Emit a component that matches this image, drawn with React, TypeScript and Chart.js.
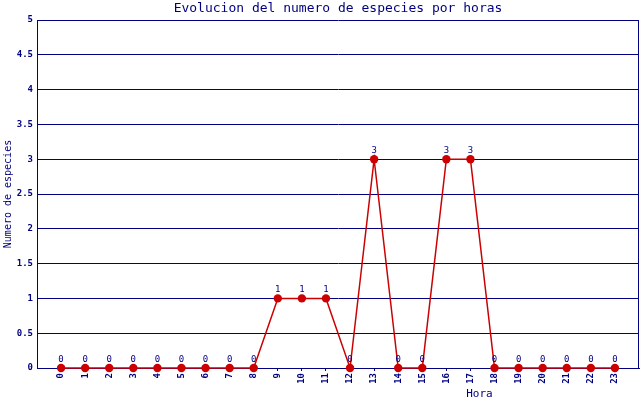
import React, { useEffect, useRef } from "react";
import { Chart, registerables } from "chart.js";

Chart.register(...registerables);

const hours: number[] = [0, 1, 2, 3, 4, 5, 6, 7, 8, 9, 10, 11, 12, 13, 14, 15, 16, 17, 18, 19, 20, 21, 22, 23];
const species: number[] = [0, 0, 0, 0, 0, 0, 0, 0, 0, 1, 1, 1, 0, 3, 0, 0, 3, 3, 0, 0, 0, 0, 0, 0];
const yTicks: number[] = [0, 0.5, 1, 1.5, 2, 2.5, 3, 3.5, 4, 4.5, 5];

const TITLE = "Evolucion del numero de especies por horas";
const X_TITLE = "Hora";
const Y_TITLE = "Numero de especies";

const NAVY = "#000080";
const RED = "#cc0000";
const MONO = "'DejaVu Sans Mono', monospace";

const textPlugin = {
  id: "customText",
  afterDatasetsDraw(chart: any) {
    const { ctx, chartArea } = chart;
    ctx.save();
    // point value labels
    const meta = chart.getDatasetMeta(0);
    ctx.fillStyle = NAVY;
    ctx.font = `9px ${MONO}`;
    ctx.textAlign = "center";
    ctx.textBaseline = "bottom";
    meta.data.forEach((el: any, i: number) => {
      ctx.fillText(String(species[i]), el.x, el.y - 4);
    });
    // right border
    ctx.strokeStyle = NAVY;
    ctx.lineWidth = 1;
    ctx.beginPath();
    ctx.moveTo(chartArea.right - 0.5, chartArea.top);
    ctx.lineTo(chartArea.right - 0.5, chartArea.bottom);
    ctx.stroke();
    // title
    ctx.font = `13px ${MONO}`;
    ctx.textBaseline = "middle";
    ctx.fillText(TITLE, (chartArea.left + chartArea.right) / 2, 9);
    // x title
    ctx.font = `11px ${MONO}`;
    ctx.fillText(X_TITLE, chartArea.left + (chartArea.right - chartArea.left) * 0.735, 394);
    ctx.restore();
  },
};

export default function App() {
  const ref = useRef<HTMLCanvasElement | null>(null);

  useEffect(() => {
    document.body.style.margin = "0";
    if (!ref.current) return;
    const chart = new Chart(ref.current, {
      type: "line",
      data: {
        datasets: [
          {
            data: hours.map((h, i) => ({ x: h, y: species[i] })),
            borderColor: RED,
            backgroundColor: RED,
            borderWidth: 1.5,
            pointRadius: 4.2,
            pointBackgroundColor: RED,
            pointBorderColor: RED,
            pointBorderWidth: 0,
            tension: 0,
            clip: false,
          },
        ],
      },
      options: {
        animation: false,
        responsive: false,
        devicePixelRatio: 1,
        layout: { autoPadding: false, padding: { top: 20, right: 1, left: 0, bottom: 0 } },
        plugins: {
          legend: { display: false },
          tooltip: { enabled: false },
          title: { display: false },
        },
        scales: {
          x: {
            type: "linear",
            min: -1,
            max: 24,
            afterFit(scale: any) {
              scale.height = 32;
              scale.paddingLeft = 0;
              scale.paddingRight = 0;
            },
            afterBuildTicks(scale: any) {
              scale.ticks = [-1, ...hours, 24].map((v) => ({ value: v }));
            },
            ticks: {
              stepSize: 1,
              autoSkip: false,
              maxRotation: 90,
              minRotation: 90,
              padding: 2,
              color: NAVY,
              font: { family: MONO, size: 9, weight: "bold" },
              callback: (v: any) => (v >= 0 && v <= 23 ? String(v) : ""),
            },
            grid: {
              drawOnChartArea: false,
              drawTicks: true,
              tickLength: 3,
              tickColor: (c: any) =>
                c.tick && (c.tick.value < 0 || c.tick.value > 23) ? "rgba(0,0,0,0)" : NAVY,
            },
            border: { color: NAVY, width: 1 },
          },
          y: {
            min: 0,
            max: 5,
            afterFit(scale: any) {
              scale.width = 37;
              scale.paddingTop = 0;
              scale.paddingBottom = 0;
            },
            afterBuildTicks(scale: any) {
              scale.ticks = yTicks.map((v) => ({ value: v }));
            },
            ticks: {
              padding: 4,
              color: NAVY,
              font: { family: MONO, size: 9, weight: "bold" },
              callback: (v: any) => String(v),
            },
            grid: {
              color: NAVY,
              lineWidth: 1,
              drawTicks: false,
            },
            border: { color: NAVY, width: 1 },
            title: {
              display: true,
              text: Y_TITLE,
              color: NAVY,
              font: { family: MONO, size: 10 },
              padding: { top: 2, bottom: 0 },
            },
          },
        },
      },
      plugins: [textPlugin],
    });
    return () => chart.destroy();
  }, []);

  return (
    <div style={{ position: "absolute", left: 0, top: 0, width: 640, height: 400, background: "#fff" }}>
      <canvas ref={ref} width={640} height={400} style={{ display: "block" }} />
    </div>
  );
}
